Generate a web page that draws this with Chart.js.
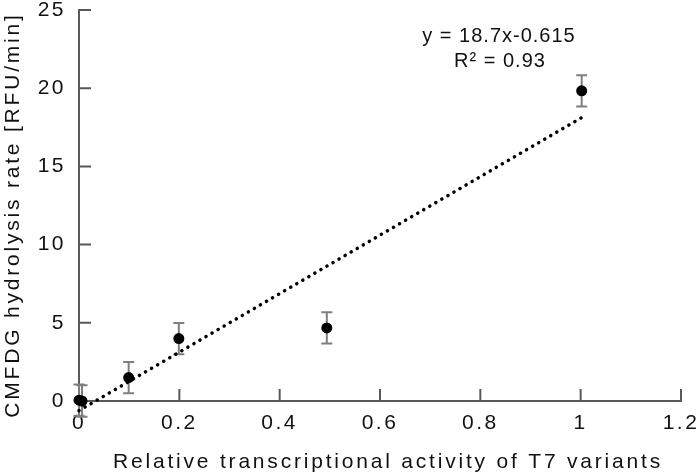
<!DOCTYPE html>
<html lang="en">
<head>
<meta charset="UTF-8">
<title>CMFDG hydrolysis vs T7 activity</title>
<script src="https://cdn.jsdelivr.net/npm/chart.js"></script>
<style>
  body { margin: 0; background: #fff; }
  .chart-box { width: 699px; height: 476px; position: relative; }
</style>
</head>
<body>
<div class="chart-box"><canvas id="rateChart"></canvas></div>
<script>
// values
const activity = [0, 0.006, 0.099, 0.199, 0.494, 1.002];
const rate = [0.05, 0.0, 1.5, 3.99, 4.67, 19.83];
const rateErr = [1.0, 1.0, 1.0, 1.0, 1.0, 1.0];
const trendX = [0, 1.002];
const trendY = [-0.615, 18.12];
const xTickVals = [0, 0.2, 0.4, 0.6, 0.8, 1, 1.2];
const xTickLabels = ['0', '0.2', '0.4', '0.6', '0.8', '1', '1.2'];
const yTickVals = [0, 5, 10, 15, 20, 25];
const yTickLabels = ['0', '5', '10', '15', '20', '25'];
const eqLines = ['y = 18.7x-0.615', 'R² = 0.93'];
const xTitle = 'Relative transcriptional activity of T7 variants';
const yTitle = 'CMFDG hydrolysis rate [RFU/min]';

const FONT = '"Liberation Sans", Arial, sans-serif';
const AXIS = '#595959';
const TEXT = '#111';

// error bars, inward ticks, titles and the trendline label
const extras = {
  id: 'extras',
  beforeDraw(chart) {
    chart.ctx.letterSpacing = '2.5px';
  },
  beforeDatasetsDraw(chart) {
    const { ctx, chartArea, scales: { x, y } } = chart;
    ctx.save();
    ctx.strokeStyle = AXIS;
    ctx.lineWidth = 2;
    ctx.beginPath();
    yTickVals.forEach(v => {
      const py = y.getPixelForValue(v);
      ctx.moveTo(chartArea.left, py);
      ctx.lineTo(chartArea.left + 12, py);
    });
    xTickVals.forEach(v => {
      const px = x.getPixelForValue(v);
      ctx.moveTo(px, chartArea.bottom);
      ctx.lineTo(px, chartArea.bottom - 12);
    });
    ctx.stroke();

    ctx.strokeStyle = '#7f7f7f';
    ctx.beginPath();
    activity.forEach((a, i) => {
      const px = x.getPixelForValue(a);
      const top = y.getPixelForValue(rate[i] + rateErr[i]);
      const bot = y.getPixelForValue(rate[i] - rateErr[i]);
      ctx.moveTo(px, top); ctx.lineTo(px, bot);
      ctx.moveTo(px - 5.5, top); ctx.lineTo(px + 5.5, top);
      ctx.moveTo(px - 5.5, bot); ctx.lineTo(px + 5.5, bot);
    });
    ctx.stroke();
    ctx.restore();
  },
  afterDraw(chart) {
    const { ctx } = chart;
    ctx.save();
    ctx.fillStyle = TEXT;
    ctx.textAlign = 'center';
    ctx.textBaseline = 'alphabetic';

    ctx.font = '21px ' + FONT;
    ctx.letterSpacing = '2.8px';
    ctx.fillText(xTitle, 388, 468);
    ctx.save();
    ctx.translate(18.5, 215);
    ctx.rotate(-Math.PI / 2);
    ctx.fillText(yTitle, 0, 0);
    ctx.restore();

    ctx.font = '20px ' + FONT;
    ctx.letterSpacing = '1px';
    ctx.fillText(eqLines[0], 499, 41.5);
    ctx.fillText(eqLines[1], 500, 66.5);
    ctx.restore();
  }
};

const ctx = document.getElementById('rateChart').getContext('2d');
const rateChart = new Chart(ctx, {
  type: 'scatter',
  data: {
    datasets: [
      {
        label: 'Trend',
        data: trendX.map((v, i) => ({ x: v, y: trendY[i] })),
        showLine: true,
        pointRadius: 0,
        borderColor: '#000',
        borderWidth: 3.5,
        borderDash: [0.1, 6.9],
        borderCapStyle: 'round',
        clip: false
      },
      {
        label: 'CMFDG',
        data: activity.map((v, i) => ({ x: v, y: rate[i] })),
        pointRadius: 5.5,
        pointBackgroundColor: '#000',
        pointBorderColor: '#000',
        pointBorderWidth: 0,
        clip: false
      }
    ]
  },
  plugins: [extras],
  options: {
    responsive: true,
    maintainAspectRatio: false,
    animation: false,
    layout: { padding: { top: 10, right: 18, left: 0, bottom: 0 } },
    plugins: {
      legend: { display: false },
      tooltip: { enabled: false }
    },
    scales: {
      x: {
        type: 'linear',
        min: 0,
        max: 1.2,
        afterFit(scale) {
          scale.height = 75;
          scale.paddingLeft = 0;
          scale.paddingRight = 0;
        },
        afterBuildTicks(scale) { scale.ticks = xTickVals.map(v => ({ value: v })); },
        grid: { display: false, drawTicks: false },
        border: { color: AXIS, width: 2 },
        ticks: {
          padding: 10,
          color: TEXT,
          font: { family: FONT, size: 21 },
          maxRotation: 0,
          callback: (v, i) => xTickLabels[i]
        }
      },
      y: {
        type: 'linear',
        min: 0,
        max: 25,
        afterFit(scale) {
          scale.width = 79;
          scale.paddingTop = 0;
          scale.paddingBottom = 0;
        },
        afterBuildTicks(scale) { scale.ticks = yTickVals.map(v => ({ value: v })); },
        grid: { display: false, drawTicks: false },
        border: { color: AXIS, width: 2 },
        ticks: {
          padding: 13,
          color: TEXT,
          font: { family: FONT, size: 21 },
          callback: (v, i) => yTickLabels[i]
        }
      }
    }
  }
});
</script>
</body>
</html>
